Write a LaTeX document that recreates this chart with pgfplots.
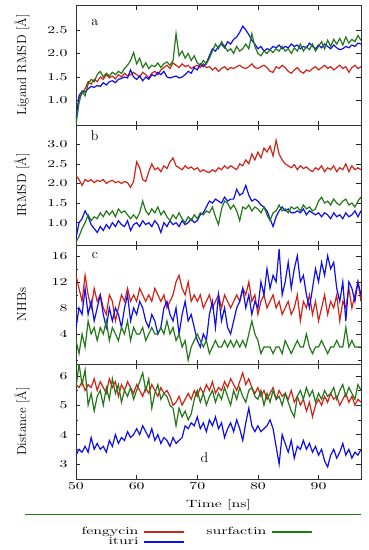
\documentclass[border=0pt]{standalone}
\usepackage{fontspec}
\usepackage{pgfplots}
\usepackage{pgfplotstable}
\pgfplotsset{compat=1.18}
\newfontfamily\wf{Latin Modern Roman}[FakeStretch=1.5]
\definecolor{colF}{RGB}{210,35,25}
\definecolor{colI}{RGB}{15,15,235}
\definecolor{colS}{RGB}{35,120,25}

\pgfplotstableread{
t f i s
50.0 0.55 0.60 0.50
50.5 1.05 1.10 0.95
51.0 1.15 1.20 1.20
51.5 1.25 1.18 1.10
52.0 1.40 1.25 1.35
52.5 1.35 1.30 1.45
53.0 1.45 1.28 1.40
53.5 1.40 1.32 1.55
54.0 1.50 1.30 1.62
54.5 1.45 1.38 1.50
55.0 1.55 1.33 1.58
55.5 1.48 1.40 1.52
56.0 1.52 1.42 1.60
56.5 1.46 1.38 1.55
57.0 1.55 1.45 1.62
57.5 1.50 1.47 1.58
58.0 1.58 1.50 1.68
58.5 1.52 1.48 1.75
59.0 1.55 1.65 1.85
59.5 1.60 1.50 2.02
60.0 1.55 1.45 1.78
60.5 1.50 1.52 1.90
61.0 1.60 1.42 1.70
61.5 1.55 1.50 1.80
62.0 1.48 1.45 1.68
62.5 1.58 1.55 1.75
63.0 1.62 1.52 1.72
63.5 1.55 1.60 1.80
64.0 1.65 1.55 1.70
64.5 1.70 1.62 1.78
65.0 1.75 1.50 1.82
65.5 1.68 1.48 1.75
66.0 1.80 1.50 1.85
66.5 1.75 1.52 2.42
67.0 1.70 1.48 1.95
67.5 1.78 1.50 2.05
68.0 1.72 1.55 1.90
68.5 1.75 1.62 2.00
69.0 1.68 1.58 1.85
69.5 1.72 1.70 1.95
70.0 1.75 1.65 1.80
70.5 1.70 1.78 1.75
71.0 1.78 1.72 1.85
71.5 1.70 1.80 1.78
72.0 1.72 1.95 1.90
72.5 1.65 2.10 2.05
73.0 1.70 2.05 2.20
73.5 1.62 2.15 2.10
74.0 1.68 2.20 2.25
74.5 1.72 2.12 2.15
75.0 1.65 2.25 2.05
75.5 1.70 2.20 2.10
76.0 1.68 2.30 2.00
76.5 1.72 2.35 2.15
77.0 1.75 2.45 2.05
77.5 1.70 2.58 2.10
78.0 1.68 2.50 2.20
78.5 1.72 2.40 2.10
79.0 1.78 2.28 2.42
79.5 1.70 2.20 2.15
80.0 1.68 2.10 2.00
80.5 1.72 2.15 1.95
81.0 1.75 2.05 2.05
81.5 1.70 2.10 2.00
82.0 1.62 2.08 2.08
82.5 1.60 2.15 2.02
83.0 1.72 2.12 2.10
83.5 1.68 2.18 2.05
84.0 1.75 2.10 2.15
84.5 1.70 2.15 2.05
85.0 1.62 2.12 2.10
85.5 1.58 2.20 2.00
86.0 1.65 2.15 2.12
86.5 1.70 2.18 2.05
87.0 1.62 2.10 2.20
87.5 1.58 2.15 2.05
88.0 1.65 2.12 2.15
88.5 1.62 2.22 2.08
89.0 1.68 2.15 2.20
89.5 1.72 2.10 2.05
90.0 1.65 2.18 2.15
90.5 1.70 2.12 2.25
91.0 1.75 2.20 2.10
91.5 1.68 2.15 2.28
92.0 1.72 2.10 2.15
92.5 1.65 2.18 2.30
93.0 1.70 2.12 2.20
93.5 1.75 2.08 2.32
94.0 1.68 2.10 2.18
94.5 1.72 2.15 2.35
95.0 1.60 2.12 2.22
95.5 1.70 2.18 2.30
96.0 1.75 2.15 2.25
96.5 1.68 2.22 2.38
97.0 1.72 2.20 2.28
}\ta

\pgfplotstableread{
t f i s
50.0 2.20 0.60 0.50
50.5 2.10 1.00 0.65
51.0 1.95 1.10 0.85
51.5 2.10 1.30 1.00
52.0 2.05 1.15 1.20
52.5 2.10 0.95 1.05
53.0 2.02 0.85 1.15
53.5 2.08 0.75 1.10
54.0 2.05 0.90 1.25
54.5 2.10 0.80 1.15
55.0 2.00 0.95 1.30
55.5 2.05 0.85 1.20
56.0 2.08 1.00 1.30
56.5 2.02 0.90 1.15
57.0 2.05 1.05 1.35
57.5 2.00 0.95 1.25
58.0 2.05 0.90 1.30
58.5 2.02 1.05 1.20
59.0 1.90 0.80 1.10
59.5 2.05 0.95 1.20
60.0 2.55 1.00 1.10
60.5 2.40 0.90 1.25
61.0 2.10 1.05 1.55
61.5 2.05 0.95 1.30
62.0 2.30 1.00 1.20
62.5 2.50 0.90 1.35
63.0 2.35 1.05 1.25
63.5 2.40 0.95 1.40
64.0 2.30 0.75 1.20
64.5 2.45 1.00 1.30
65.0 2.38 0.90 1.15
65.5 2.55 1.05 1.05
66.0 2.65 0.95 1.20
66.5 2.45 1.00 1.10
67.0 2.40 0.90 1.25
67.5 2.35 1.05 1.10
68.0 2.45 0.95 1.00
68.5 2.38 1.00 1.15
69.0 2.42 1.10 1.05
69.5 2.35 1.00 1.20
70.0 2.40 1.05 1.10
70.5 2.30 1.20 1.25
71.0 2.35 1.25 1.20
71.5 2.30 1.40 1.30
72.0 2.28 1.55 1.25
72.5 2.35 1.50 1.40
73.0 2.30 1.60 1.15
73.5 2.40 1.55 0.95
74.0 2.35 1.50 1.35
74.5 2.45 1.65 1.55
75.0 2.38 1.55 1.50
75.5 2.45 1.60 1.35
76.0 2.40 1.60 1.45
76.5 2.35 1.85 1.30
77.0 2.50 1.70 1.05
77.5 2.45 1.75 1.40
78.0 2.60 1.95 1.35
78.5 2.50 1.70 1.45
79.0 2.75 1.55 1.30
79.5 2.60 1.60 1.40
80.0 2.80 1.55 1.35
80.5 2.65 1.45 1.25
81.0 2.90 1.40 1.40
81.5 2.80 1.30 1.20
82.0 2.95 1.10 1.05
82.5 2.70 0.90 1.25
83.0 3.10 1.15 1.30
83.5 2.75 1.30 1.45
84.0 2.60 1.40 1.30
84.5 2.50 1.30 1.35
85.0 2.45 1.35 1.25
85.5 2.40 1.25 1.40
86.0 2.48 1.25 1.35
86.5 2.35 1.30 1.40
87.0 2.45 1.25 1.30
87.5 2.38 1.35 1.45
88.0 2.42 1.20 1.35
88.5 2.35 1.30 1.40
89.0 2.30 1.25 1.30
89.5 2.40 1.20 1.35
90.0 2.35 1.25 1.55
90.5 2.45 1.15 1.65
91.0 2.30 1.25 1.50
91.5 2.40 1.20 1.55
92.0 2.35 1.10 1.45
92.5 2.45 1.25 1.60
93.0 2.30 1.15 1.50
93.5 2.40 1.20 1.45
94.0 2.35 1.10 1.55
94.5 2.50 1.25 1.60
95.0 2.30 1.15 1.45
95.5 2.45 1.20 1.50
96.0 2.35 1.30 1.40
96.5 2.40 1.15 1.55
97.0 2.35 1.30 1.65
}\tb

\pgfplotstableread{
t f i s
50.0 13 5 3
50.5 11 8 1
51.0 9 7 4
51.5 13 11 2
52.0 10 7 6
52.5 8 9 4
53.0 11 6 5
53.5 9 8 3
54.0 10 10 5
54.5 8 7 4
55.0 7 5 6
55.5 10 8 3
56.0 9 6 5
56.5 6 8 4
57.0 8 7 3
57.5 10 5 5
58.0 9 8 4
58.5 11 10 6
59.0 9 6 3
59.5 10 8 5
60.0 9 7 4
60.5 11 9 4
61.0 10 8 5
61.5 9 6 3
62.0 10 5 4
62.5 9 7 5
63.0 11 6 4
63.5 10 4 4
64.0 9 5 5
64.5 10 8 4
65.0 8 9 6
65.5 9 7 4
66.0 10 6 5
66.5 12 8 3
67.0 13 4 4
67.5 11 7 2
68.0 10 9 3
68.5 12 6 0
69.0 9 7 2
69.5 10 5 3
70.0 9 3 4
70.5 10 2 3
71.0 8 4 2
71.5 9 3 3
72.0 10 7 1
72.5 8 9 2
73.0 9 5 3
73.5 10 10 2
74.0 8 6 2
74.5 10 8 3
75.0 9 5 2
75.5 8 4 3
76.0 9 6 2
76.5 10 8 3
77.0 9 9 2
77.5 11 11 3
78.0 10 8 2
78.5 12 10 4
79.0 9 7 6
79.5 10 9 4
80.0 7 8 3
80.5 9 12 1
81.0 10 10 2
81.5 8 14 2
82.0 9 11 2
82.5 10 13 1
83.0 8 12 2
83.5 9 17 2
84.0 7 10 1
84.5 8 12 3
85.0 9 15 2
85.5 7 11 1
86.0 8 14 2
86.5 10 16 3
87.0 6 12 2
87.5 9 13 2
88.0 8 10 4
88.5 10 8 2
89.0 7 11 1
89.5 9 14 2
90.0 6 12 2
90.5 8 15 3
91.0 10 13 2
91.5 7 16 1
92.0 9 14 2
92.5 8 15 2
93.0 10 11 3
93.5 6 9 2
94.0 9 12 2
94.5 8 6 5
95.0 11 12 2
95.5 8 11 3
96.0 10 9 2
96.5 12 12 2
97.0 9 10 2
}\tc

\pgfplotstableread{
t f i s
50.0 5.7 3.3 5.6
50.5 5.6 3.5 6.4
51.0 5.8 3.4 5.7
51.5 5.5 3.6 6.2
52.0 5.7 3.4 5.0
52.5 5.6 3.9 5.4
53.0 5.9 3.5 4.8
53.5 5.5 3.7 5.3
54.0 5.8 3.5 5.5
54.5 5.6 3.6 5.0
55.0 5.4 3.4 5.6
55.5 5.9 3.8 5.2
56.0 5.6 3.6 5.9
56.5 5.8 4.0 5.4
57.0 5.3 3.7 5.7
57.5 5.7 3.9 5.1
58.0 5.5 3.8 5.5
58.5 5.8 4.1 5.3
59.0 5.6 3.9 5.6
59.5 5.4 4.0 5.2
60.0 5.7 4.2 5.5
60.5 5.5 4.0 5.8
61.0 5.3 4.3 6.1
61.5 5.6 4.1 5.5
62.0 5.4 3.9 5.9
62.5 5.7 4.2 4.9
63.0 5.5 3.8 5.4
63.5 5.3 4.0 5.7
64.0 5.6 3.7 5.2
64.5 5.4 3.9 5.4
65.0 5.5 3.8 5.3
65.5 5.3 3.6 5.0
66.0 5.0 3.9 4.9
66.5 5.1 3.7 4.3
67.0 5.3 3.8 4.9
67.5 5.0 3.9 4.6
68.0 5.2 4.3 4.8
68.5 5.4 4.2 4.5
69.0 5.2 4.4 4.7
69.5 5.5 4.3 5.2
70.0 5.3 4.6 5.5
70.5 5.6 4.2 5.1
71.0 5.4 4.4 5.4
71.5 5.7 4.1 5.0
72.0 5.5 4.5 5.3
72.5 5.8 4.3 5.5
73.0 5.4 4.6 5.1
73.5 5.6 4.2 5.4
74.0 5.5 4.4 5.2
74.5 5.8 3.9 5.6
75.0 5.6 4.2 5.3
75.5 5.9 4.4 5.0
76.0 5.7 4.1 5.5
76.5 5.5 4.5 5.2
77.0 5.8 4.2 5.6
77.5 6.1 3.8 5.3
78.0 5.7 4.4 5.1
78.5 5.9 4.9 5.5
79.0 5.6 4.3 5.6
79.5 5.4 4.1 5.3
80.0 5.6 4.3 5.2
80.5 5.3 4.1 5.5
81.0 5.5 4.2 5.0
81.5 5.2 4.3 5.4
82.0 5.4 4.5 5.1
82.5 5.6 4.2 5.5
83.0 5.2 3.6 5.2
83.5 5.5 3.0 5.3
84.0 5.3 4.0 5.0
84.5 5.4 3.7 5.4
85.0 5.2 3.4 5.1
85.5 5.5 3.8 4.8
86.0 5.1 3.2 4.6
86.5 5.3 3.6 5.3
87.0 5.0 3.5 5.5
87.5 5.2 3.8 5.2
88.0 4.8 3.5 5.6
88.5 5.1 3.7 5.3
89.0 4.6 3.4 5.5
89.5 5.0 3.6 5.1
90.0 5.2 3.3 5.4
90.5 5.0 3.5 5.2
91.0 5.3 3.1 5.5
91.5 5.1 2.9 5.3
92.0 5.4 3.3 5.4
92.5 5.2 3.5 5.6
93.0 5.3 3.2 5.2
93.5 5.0 3.4 5.5
94.0 5.2 3.7 5.7
94.5 5.4 3.3 5.3
95.0 5.1 3.5 5.6
95.5 5.3 3.2 5.4
96.0 5.0 3.4 5.2
96.5 5.2 3.3 5.7
97.0 5.1 3.5 5.5
}\td

\pgfplotsset{
  panel/.style={
    scale only axis, width=285pt, xmin=50, xmax=97,
    xtick={50,60,70,80,90},
    tick align=inside,
    major tick length=4.5pt, minor tick length=2.5pt,
    every tick/.style={black!85, line width=0.5pt},
    axis line style={line width=0.6pt, black!80},
    tick label style={font=\fontsize{10.5}{12}\wf},
    /pgf/number format/assume math mode=true,
    ylabel style={font=\fontsize{13}{14}\selectfont, at={(axis description cs:-0.19,0.5)}, anchor=center},
    yticklabel style={xshift=-5pt},
    anchor=north west,
  },
}

\begin{document}
\begin{tikzpicture}
\useasboundingbox (-76pt,5pt) rectangle (292pt,-545pt);
\begin{axis}[panel, at={(0pt,0pt)}, height=120pt, ymin=0.48, ymax=3.03,
  ytick={1.0,1.5,2.0,2.5}, yticklabels={1.0,1.5,2.0,2.5}, xticklabels={},
  ylabel={Ligand RMSD [Å]}]
\addplot[colF, line width=1.2pt] table[x=t,y=f]{\ta};
\addplot[colI, line width=1.2pt] table[x=t,y=i]{\ta};
\addplot[colS, line width=1.2pt] table[x=t,y=s]{\ta};
\node[font=\fontsize{14}{14}\selectfont] at (axis cs:53.1,2.65) {a};
\end{axis}
\begin{axis}[panel, at={(0pt,-120pt)}, height=120pt, ymin=0.43, ymax=3.49,
  ytick={1.0,1.5,2.0,2.5,3.0}, yticklabels={1.0,1.5,2.0,2.5,3.0}, xticklabels={},
  ylabel={IRMSD [Å]}]
\addplot[colF, line width=1.2pt] table[x=t,y=f]{\tb};
\addplot[colI, line width=1.2pt] table[x=t,y=i]{\tb};
\addplot[colS, line width=1.2pt] table[x=t,y=s]{\tb};
\node[font=\fontsize{14}{14}\selectfont] at (axis cs:53.1,3.21) {b};
\end{axis}
\begin{axis}[panel, at={(0pt,-240pt)}, height=119pt, ymin=-0.6, ymax=17.65,
  ytick={4,8,12,16}, minor ytick={0,2,6,10,14}, xticklabels={},
  ylabel={NHBs}]
\addplot[colF, line width=1.2pt] table[x=t,y=f]{\tc};
\addplot[colI, line width=1.2pt] table[x=t,y=i]{\tc};
\addplot[colS, line width=1.2pt] table[x=t,y=s]{\tc};
\node[font=\fontsize{14}{14}\selectfont] at (axis cs:53.1,16.0) {c};
\end{axis}
\begin{axis}[panel, at={(0pt,-359pt)}, height=115pt, ymin=2.49, ymax=6.4,
  ytick={3,4,5,6}, minor ytick={3.5,4.5,5.5},
  xlabel={Time [ns]},
  xlabel style={font=\fontsize{10.5}{12}\wf, at={(axis description cs:0.5,-0.226)}, anchor=center},
  ylabel={Distance [Å]}]
\addplot[colF, line width=1.2pt] table[x=t,y=f]{\td};
\addplot[colI, line width=1.2pt] table[x=t,y=i]{\td};
\addplot[colS, line width=1.2pt] table[x=t,y=s]{\td};
\node[font=\fontsize{14}{14}\selectfont] at (axis cs:71.2,3.2) {d};
\end{axis}
\draw[colS, line width=1pt] (-51pt,-509pt) -- (285pt,-509pt);
\node[anchor=center, inner sep=0pt, font=\fontsize{10.5}{10.5}\wf] at (121pt,-532pt) {%
  \begin{tabular}{@{}r@{\hspace{6pt}}l@{\hspace{22pt}}r@{\hspace{6pt}}l@{}}
  fengycin & \textcolor{colF}{\rule[0.32ex]{40pt}{1.5pt}} & surfactin & \textcolor{colS}{\rule[0.32ex]{40pt}{1.5pt}}\\[-0.5pt]
  ituri & \textcolor{colI}{\rule[0.32ex]{40pt}{1.6pt}} & & \\
  \end{tabular}};
\end{tikzpicture}
\end{document}
